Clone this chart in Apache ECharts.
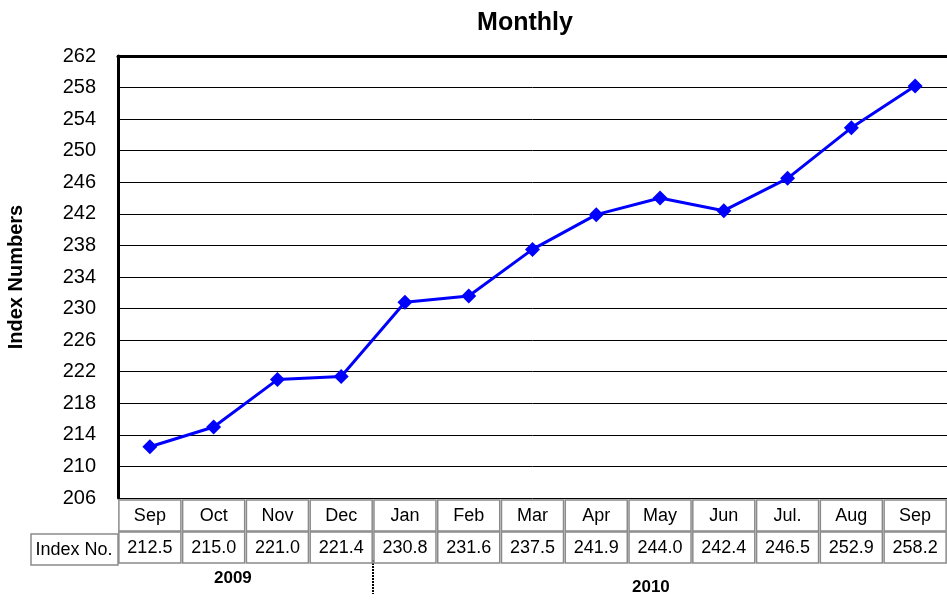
<!DOCTYPE html>
<html>
<head>
<meta charset="utf-8">
<script src="https://cdn.jsdelivr.net/npm/echarts@6/dist/echarts.min.js"></script>
<style>
  html, body { margin: 0; padding: 0; background: #fff; }
  #chart { width: 947px; height: 600px; }
</style>
</head>
<body>
<div id="chart"></div>
<script>
  // months of the index, Sep 2009 .. Sep 2010
  var months = ['Sep', 'Oct', 'Nov', 'Dec', 'Jan', 'Feb', 'Mar', 'Apr', 'May', 'Jun', 'Jul.', 'Aug', 'Sep'];
  var indexValues = [212.5, 215.0, 221.0, 221.4, 230.8, 231.6, 237.5, 241.9, 244.0, 242.4, 246.5, 252.9, 258.2];
  var years = ['2009', '2010'];
  var yMin = 206, yMax = 262, yStep = 4;

  var font = 'Liberation Sans, Arial, sans-serif';
  var myChart = echarts.init(document.getElementById('chart'));

  // label boxes make up the data table under the plot
  var cellLabel = {
    interval: 0,
    margin: 2,
    width: 62,
    height: 31,
    lineHeight: 33,
    align: 'center',
    borderColor: '#8a8a8a',
    borderWidth: 1.5,
    color: '#000',
    fontFamily: font,
    fontSize: 18
  };

  var option = {
    animation: false,
    title: {
      text: 'Monthly',
      left: 520,
      top: 6,
      textAlign: 'center',
      textStyle: { fontFamily: font, fontSize: 25, fontWeight: 'bold', color: '#000' }
    },
    grid: { left: 118, right: 0, top: 56, bottom: 102, outerBoundsMode: 'none' },
    xAxis: [
      {
        type: 'category',
        data: months,
        position: 'bottom',
        axisLine: { show: false },
        axisTick: { show: false },
        axisLabel: cellLabel
      },
      {
        type: 'category',
        data: months,
        position: 'bottom',
        offset: 32,
        axisLine: { show: false },
        axisTick: { show: false },
        axisLabel: Object.assign({}, cellLabel, {
          formatter: function (v, i) { return indexValues[i].toFixed(1); }
        })
      },
      {
        type: 'category',
        data: months,
        position: 'top',
        axisLine: { show: true, lineStyle: { color: '#000', width: 3 } },
        axisTick: { show: false },
        axisLabel: { show: false }
      }
    ],
    yAxis: {
      type: 'value',
      min: yMin,
      max: yMax,
      interval: yStep,
      name: 'Index Numbers',
      nameLocation: 'middle',
      nameGap: 92,
      nameTextStyle: { fontFamily: font, fontSize: 20, fontWeight: 'bold', color: '#000' },
      axisLine: { show: true, lineStyle: { color: '#000', width: 3 } },
      axisTick: { show: false },
      axisLabel: { margin: 22, color: '#000', fontFamily: font, fontSize: 20 },
      splitLine: { lineStyle: { color: '#000', width: 1 } }
    },
    series: [{
      type: 'line',
      data: indexValues,
      xAxisIndex: 0,
      symbol: 'diamond',
      symbolSize: 15,
      lineStyle: { color: '#0000ff', width: 3 },
      itemStyle: { color: '#0000ff' }
    }],
    graphic: [
      {
        type: 'rect',
        shape: { x: 31, y: 534, width: 87, height: 31 },
        style: { fill: '#fff', stroke: '#8a8a8a', lineWidth: 1.5 }
      },
      {
        type: 'text',
        x: 74,
        y: 550,
        style: {
          text: 'Index No.',
          align: 'center',
          verticalAlign: 'middle',
          fill: '#000',
          font: '18px ' + font
        }
      },
      {
        type: 'text',
        left: 214,
        top: 570,
        style: { text: years[0], fill: '#000', font: 'bold 17px ' + font }
      },
      {
        type: 'text',
        left: 632,
        top: 579,
        style: { text: years[1], fill: '#000', font: 'bold 17px ' + font }
      },
      {
        type: 'line',
        shape: { x1: 373, y1: 560, x2: 373, y2: 594 },
        style: { stroke: '#000', lineWidth: 2, lineDash: [2, 1] }
      }
    ]
  };

  myChart.setOption(option);
</script>
</body>
</html>
